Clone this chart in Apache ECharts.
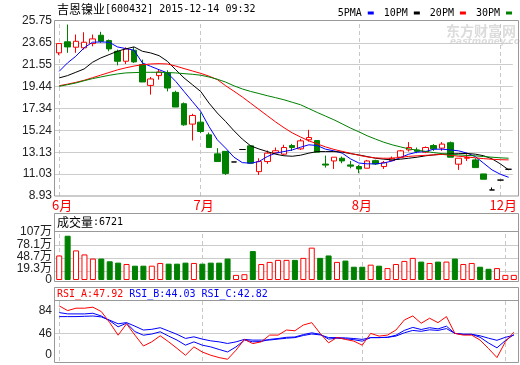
<!DOCTYPE html>
<html><head><meta charset="utf-8">
<script src="https://cdn.jsdelivr.net/npm/echarts@6/dist/echarts.min.js"></script>
<style>html,body{margin:0;padding:0;background:#fff}#c{width:520px;height:365px}</style>
</head><body><div id="c"></div>
<script>
// ---- data ----
const categories = Array.from({length: 55}, (_, i) => 'K' + (i + 1));
const monthTickIdx = [0, 17, 36, 53];
const monthTickLabels = ['6月', '7月', '8月', '12月'];
const priceTicks = [8.93, 11.03, 13.13, 15.24, 17.34, 19.44, 21.55, 23.65, 25.75];
const volTicks = [19.3, 48.7, 78.1, 107];
const volZeroTick = [0];
const rsiTicks = [0, 46, 84];

// [open, close, low, high]
const candles = [
  [22.69,23.58,22.47,23.60],[23.75,23.26,22.69,25.41],[23.23,23.80,22.69,24.45],[23.17,23.71,23.00,24.67],
  [23.58,24.03,23.32,24.45],[24.38,23.80,23.65,24.71],[23.87,23.07,22.84,23.97],[22.84,21.88,21.49,23.00],
  [21.88,23.07,21.62,23.22],[22.94,21.82,21.72,23.26],[21.56,19.89,19.89,22.04],[19.56,20.18,18.67,20.37],
  [20.50,20.85,20.11,21.07],[20.76,19.31,18.98,21.01],[18.89,17.48,17.48,19.05],[17.80,15.77,15.68,17.92],
  [15.84,16.67,14.26,16.83],[16.03,15.13,14.97,16.96],[14.81,13.59,13.59,15.03],[12.98,12.24,12.24,13.53],
  [13.22,11.10,10.95,13.22],[12.20,12.20,12.20,12.20],[13.40,13.40,13.40,13.40],[13.75,12.08,12.06,13.80],
  [11.27,12.24,10.95,12.56],[12.24,13.05,12.02,13.30],[13.08,13.28,13.00,13.59],[12.95,13.59,12.88,13.85],
  [13.78,13.59,13.27,13.94],[13.46,14.23,13.36,14.42],[14.33,14.55,14.16,15.29],[14.26,13.14,13.14,14.26],
  [12.00,11.90,11.66,12.81],[12.30,12.66,11.53,12.66],[12.56,12.30,12.08,12.72],[11.92,11.80,11.59,12.30],
  [11.76,11.53,11.12,11.92],[11.60,12.30,11.60,12.40],[12.33,12.01,11.92,12.42],[11.76,12.14,11.53,12.30],
  [12.33,12.56,12.33,12.72],[12.66,13.27,12.56,13.36],[13.36,13.59,13.20,14.11],[13.36,13.22,13.05,13.59],
  [13.14,13.59,13.05,13.69],[13.78,13.46,13.27,13.92],[13.53,13.92,13.27,14.11],[14.05,12.66,12.66,14.16],
  [11.99,12.56,11.44,12.56],[12.56,12.62,12.30,12.95],[12.40,11.66,11.66,12.56],[11.05,10.54,10.54,11.05],
  [9.51,9.51,9.51,9.75],[10.46,10.46,10.46,10.46],[11.50,11.50,11.50,11.50]
];
const ma5 = [20.91,21.72,22.36,23.17,23.71,23.74,23.71,23.26,23.10,22.94,21.72,21.39,21.07,20.76,19.95,18.98,18.02,17.06,15.61,14.33,
  13.53,12.66,12.14,12.08,12.24,12.72,13.05,13.20,13.36,13.62,13.85,13.78,13.43,13.27,13.05,12.50,12.10,12.02,12.02,12.10,
  12.30,12.62,12.95,13.14,13.20,13.43,13.43,13.36,13.27,13.05,12.72,12.08,11.44,11.02,10.73];
const ma10 = [20.28,20.50,20.82,21.14,21.78,22.20,22.52,22.84,23.07,23.26,22.84,22.68,22.42,21.88,21.07,20.28,19.63,18.98,17.86,16.90,
  16.09,15.20,14.40,13.75,13.45,13.20,12.95,12.80,12.75,12.85,13.05,13.20,13.20,13.20,13.15,13.00,12.88,12.72,12.56,12.47,
  12.40,12.47,12.56,12.66,12.79,12.88,12.95,12.97,13.00,13.02,12.95,12.80,12.50,12.02,11.44];
const ma20 = [19.53,19.68,19.85,20.05,20.30,20.55,20.80,21.05,21.25,21.42,21.55,21.62,21.65,21.62,21.42,21.18,20.95,20.72,20.45,20.12,
  19.53,19.00,18.45,17.85,17.25,16.65,16.05,15.50,15.00,14.60,14.23,13.94,13.65,13.41,13.22,13.03,12.84,12.69,12.59,12.56,
  12.56,12.64,12.74,12.79,12.84,12.88,12.93,12.85,12.75,12.68,12.60,12.52,12.46,12.42,12.40];
const ma30 = [19.47,19.63,19.79,20.01,20.21,20.37,20.53,20.66,20.76,20.79,20.82,20.82,20.82,20.80,20.76,20.69,20.63,20.54,20.37,20.15,
  19.88,19.52,19.22,18.98,18.78,18.57,18.38,18.18,17.94,17.70,17.33,16.96,16.61,16.26,15.86,15.46,15.10,14.72,14.40,14.10,
  13.85,13.65,13.46,13.33,13.22,13.10,13.00,12.93,12.88,12.83,12.79,12.72,12.66,12.60,12.56];
// volume in 万
const volume = [54.7,98.7,66,57,47.8,47.8,41.7,38.7,35.7,31.9,31.9,31.9,38,36.4,36.4,38.7,38,36.4,38.7,38.7,
  47.8,11.4,12.9,64.5,35.7,40.3,44.8,44.8,44.8,49.3,72.1,49.3,54.7,40.3,43.3,29.6,29.6,34.2,31.9,26.6,
  35.7,42.5,49.3,41,38,41,41,47.8,35.7,38,29.6,25,26.6,11.4,11.4];
const rsiA = [91.9,84,88,88,89.7,82.4,64,43,62,43,25,32,42,32,21,9.6,23.5,15,9.6,5.7,
  2.9,18,36,29,32,43.2,43.2,51.6,50.4,60,63.9,46,30.3,39.3,36,33.1,26.4,46,41.5,43.2,
  51.6,68.4,75.1,62.9,71.3,63.9,74,46,43.2,43.2,34.8,20.8,5.7,32,47.92];
const rsiB = [80.7,78.5,78.5,78.5,79.6,75,67,57,63,49,43,45,48.7,41.5,34.8,26.4,31.9,26.4,23.5,19.2,
  15.1,23.5,34.8,32,32.5,36,37.5,39.5,40,44,47,44.5,36.5,38,37,35.5,33,39,39,39.5,
  43,51,56,52.5,55.5,53.5,58,46,44.5,44.5,39.5,30,22,34,44.03];
const rsiC = [74,74,74,74.5,75,73.5,68,62,64,58,51.6,52.8,55.5,50,44.4,37.6,40.3,36.5,33.6,31.9,
  29.2,31.9,36,34.8,34.8,35,36.5,38,39,42.5,45,43.5,39,39,38.5,37.5,36,39,39,39.5,
  41.5,47,51,49.5,52,51,54,46,44.5,44.5,42,38,34.5,39.5,42.82];

// ---- chart ----
const UP = '#ff0000', DOWN = '#008000';
const monoFont = 'DejaVu Sans Mono';
const cjkFont = 'Noto Sans CJK SC';
const axisFont = 'Liberation Sans, Noto Sans CJK SC';

function guideLines(hVals) {
  const data = hVals.map(v => ({ yAxis: v, lineStyle: { color: '#cccccc', width: 1, type: 'solid' } }))
    .concat(monthTickIdx.map(i => ({ xAxis: i, lineStyle: { color: '#c8c8c8', width: 1, type: [4, 3] } })));
  return { silent: true, symbol: 'none', z: 1, animation: false, label: { show: false },
    emphasis: { disabled: true }, data: data };
}

const volData = volume.map((v, i) => {
  const up = candles[i][1] >= candles[i][0];
  return { value: v, itemStyle: up ? { color: '#ffffff', borderColor: UP, borderWidth: 1 } : { color: DOWN, borderColor: DOWN, borderWidth: 1 } };
});

const hiddenX = (gi) => ({ type: 'category', gridIndex: gi, data: categories, boundaryGap: true,
  axisLine: { show: false }, axisTick: { show: false }, axisLabel: { show: false }, splitLine: { show: false } });

const lblRich = (pb) => ({ fontSize: 12, fontFamily: axisFont, color: '#222', padding: [0, 0, pb, 0] });
const baseLabel = { color: '#222', fontSize: 12, fontFamily: axisFont, margin: 3, showMinLabel: true, showMaxLabel: true, hideOverlap: false };

const option = {
  animation: false,
  backgroundColor: '#ffffff',
  legend: {
    data: ['5PMA', '10PM', '20PM', '30PM'], right: 3, top: 3, align: 'right', icon: 'rect',
    itemWidth: 6, itemHeight: 3, itemGap: 10, selectedMode: false,
    textStyle: { fontFamily: monoFont, fontSize: 10, color: '#000', padding: [0, 1, 0, 0] }
  },
  grid: [
    { left: 55, top: 21, width: 463, height: 175 },
    { left: 55, top: 232, width: 463, height: 48 },
    { left: 55, top: 301, width: 463, height: 60 }
  ],
  xAxis: [
    { type: 'category', gridIndex: 0, data: categories, boundaryGap: true,
      axisLine: { show: false }, axisTick: { show: false }, splitLine: { show: false },
      axisLabel: { interval: (idx) => monthTickIdx.includes(idx),
        formatter: (v, idx) => monthTickLabels[monthTickIdx.indexOf(idx)] || '',
        color: UP, fontSize: 13, fontFamily: cjkFont, margin: 3, padding: [0, 0, 0, 6] } },
    hiddenX(1), hiddenX(2)
  ],
  yAxis: [
    { type: 'value', gridIndex: 0, min: 8.93, max: 25.75,
      axisLine: { show: false }, splitLine: { show: false },
      axisTick: { show: false, customValues: priceTicks },
      axisLabel: Object.assign({}, baseLabel, { customValues: priceTicks, formatter: v => v.toFixed(2) }) },
    { type: 'value', gridIndex: 1, min: 0, max: 107,
      axisLine: { show: false }, splitLine: { show: false },
      axisTick: { show: false, customValues: volTicks },
      axisLabel: Object.assign({}, baseLabel, { customValues: volTicks,
        formatter: v => v === 19.3 ? '{s|19.3万}' : (v === 48.7 ? '{t|48.7万}' : v + '万'),
        rich: { s: lblRich(5), t: lblRich(3) } }) },
    { type: 'value', gridIndex: 2, min: 0, max: 100,
      axisLine: { show: false }, splitLine: { show: false },
      axisTick: { show: false, customValues: rsiTicks },
      axisLabel: Object.assign({}, baseLabel, { customValues: rsiTicks, formatter: v => v === 0 ? '{z|0}' : String(v),
        rich: { z: lblRich(12) } }) },
    { type: 'value', gridIndex: 1, min: 0, max: 107, position: 'left', offset: 0,
      axisLine: { show: false }, splitLine: { show: false },
      axisTick: { show: false, customValues: volZeroTick },
      axisLabel: Object.assign({}, baseLabel, { customValues: volZeroTick, formatter: v => String(v) }) }
  ],
  series: [
    { type: 'candlestick', name: 'K', xAxisIndex: 0, yAxisIndex: 0, data: candles, barWidth: 6,
      itemStyle: { color: '#ffffff', color0: DOWN, borderColor: UP, borderColor0: DOWN, borderColorDoji: '#000000', borderWidth: 1 },
      markLine: guideLines(priceTicks.slice(1, -1)) },
    { type: 'line', name: '5PMA', data: ma5, xAxisIndex: 0, yAxisIndex: 0, showSymbol: false, symbol: 'none', color: '#0000ff', lineStyle: { width: 1, color: '#0000ff' } },
    { type: 'line', name: '10PM', data: ma10, xAxisIndex: 0, yAxisIndex: 0, showSymbol: false, symbol: 'none', color: '#000000', lineStyle: { width: 1, color: '#000000' } },
    { type: 'line', name: '20PM', data: ma20, xAxisIndex: 0, yAxisIndex: 0, showSymbol: false, symbol: 'none', color: '#ff0000', lineStyle: { width: 1, color: '#ff0000' } },
    { type: 'line', name: '30PM', data: ma30, xAxisIndex: 0, yAxisIndex: 0, showSymbol: false, symbol: 'none', color: '#008000', lineStyle: { width: 1, color: '#008000' } },
    { type: 'bar', name: '成交量', xAxisIndex: 1, yAxisIndex: 1, data: volData, barWidth: 6,
      markLine: guideLines([19.3, 48.7, 78.1]) },
    { type: 'line', name: 'RSI_C', data: rsiC, xAxisIndex: 2, yAxisIndex: 2, showSymbol: false, symbol: 'none', lineStyle: { width: 1, color: '#0000ff' },
      markLine: guideLines([46]) },
    { type: 'line', name: 'RSI_B', data: rsiB, xAxisIndex: 2, yAxisIndex: 2, showSymbol: false, symbol: 'none', lineStyle: { width: 1, color: '#0000ff' } },
    { type: 'line', name: 'RSI_A', data: rsiA, xAxisIndex: 2, yAxisIndex: 2, showSymbol: false, symbol: 'none', lineStyle: { width: 1, color: '#ff0000' } }
  ],
  graphic: [
    // watermark
    { type: 'text', left: 446, top: 24, z: 0, silent: true,
      style: { text: '东方财富网', font: 'bold 14px "Noto Sans CJK SC"', fill: '#dcdcdc' } },
    { type: 'text', left: 450, top: 37, z: 0, silent: true,
      style: { text: 'eastmoney.com', font: 'italic bold 9px "DejaVu Sans"', fill: '#dcdcdc' } },
    // title
    { type: 'text', left: 57, top: 3, z: 10, silent: true,
      style: { text: '{c|吉恩镍业}{m|[600432] 2015-12-14 09:32}',
        rich: { c: { fontFamily: cjkFont, fontSize: 12, fill: '#000' }, m: { fontFamily: monoFont, fontSize: 10, fill: '#000' } } } },
    // frames
    { type: 'rect', z: 20, silent: true, shape: { x: 54.5, y: 20.5, width: 464, height: 175.5 }, style: { fill: 'none', stroke: '#999', lineWidth: 1 } },
    { type: 'rect', z: 20, silent: true, shape: { x: 54.5, y: 213.5, width: 464, height: 68 }, style: { fill: 'none', stroke: '#999', lineWidth: 1 } },
    { type: 'line', z: 20, silent: true, shape: { x1: 54.5, y1: 231.5, x2: 518.5, y2: 231.5 }, style: { stroke: '#999', lineWidth: 1 } },
    { type: 'rect', z: 20, silent: true, shape: { x: 54.5, y: 287.5, width: 464, height: 75 }, style: { fill: 'none', stroke: '#999', lineWidth: 1 } },
    { type: 'line', z: 20, silent: true, shape: { x1: 54.5, y1: 300.5, x2: 518.5, y2: 300.5 }, style: { stroke: '#999', lineWidth: 1 } },
    // panel headers
    { type: 'text', left: 57, top: 216, z: 10, silent: true,
      style: { text: '{c|成交量}{m|:6721}',
        rich: { c: { fontFamily: cjkFont, fontSize: 12, fill: '#000' }, m: { fontFamily: monoFont, fontSize: 10, fill: '#000' } } } },
    { type: 'text', left: 57, top: 289, z: 10, silent: true,
      style: { text: '{a|RSI_A:47.92 }{b|RSI_B:44.03 }{b|RSI_C:42.82}',
        rich: { a: { fontFamily: monoFont, fontSize: 10, fill: '#ff0000' }, b: { fontFamily: monoFont, fontSize: 10, fill: '#0000ff' } } } }
  ]
};
const chart = echarts.init(document.getElementById('c'));
chart.setOption(option);
</script>
</body></html>
